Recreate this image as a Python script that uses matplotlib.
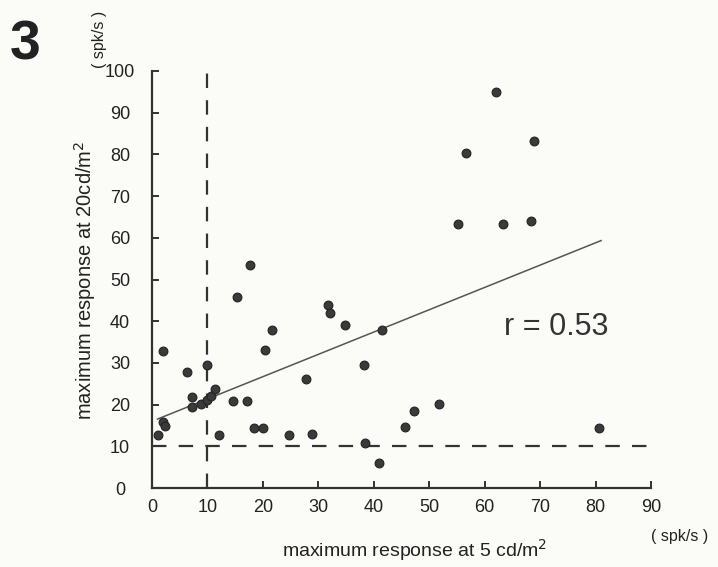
import matplotlib.pyplot as plt
import numpy as np

# maximum response (spk/s) at 5 cd/m2 vs at 20 cd/m2
resp_5cd = [1.0, 2.0, 2.0, 2.3, 6.4, 7.3, 7.3, 8.8, 10.0, 10.0, 10.6, 11.4, 12.1,
            14.6, 15.4, 17.1, 17.7, 18.4, 20.1, 20.4, 21.7, 24.7, 27.7, 28.9,
            31.7, 32.1, 34.8, 38.2, 38.5, 41.0, 41.4, 45.7, 47.2, 51.8, 55.2,
            56.7, 62.1, 63.3, 68.3, 68.9, 80.7]
resp_20cd = [12.7, 32.9, 15.9, 14.9, 27.9, 21.8, 19.4, 20.1, 29.5, 21.0, 22.1, 23.8, 12.7,
             20.9, 45.9, 20.9, 53.5, 14.3, 14.3, 33.1, 37.9, 12.7, 26.1, 13.0,
             43.8, 42.0, 39.0, 29.5, 10.9, 5.9, 37.9, 14.6, 18.5, 20.1, 63.2,
             80.3, 94.9, 63.2, 64.1, 83.3, 14.5]

# regression line as drawn
fit_x = [1, 81]
fit_slope = 0.535
fit_intercept = 16.0
r_value = 0.53
threshold = 10

xticks = list(range(0, 100, 10))
yticks = list(range(0, 110, 10))

plt.rcParams['font.family'] = ['Liberation Sans', 'DejaVu Sans']

fig = plt.figure(figsize=(7.18, 5.67), dpi=100)
fig.patch.set_facecolor('#fbfbf8')
ax = fig.add_axes([0.2117, 0.1393, 0.695, 0.7355])
ax.set_facecolor('#fbfbf8')

ax.set_xlim(0, 90)
ax.set_ylim(0, 100)
for s in ['top', 'right']:
    ax.spines[s].set_visible(False)
for s in ['left', 'bottom']:
    ax.spines[s].set_linewidth(1.6)
    ax.spines[s].set_color('#333333')

ax.set_xticks(xticks)
ax.set_yticks(yticks)
ax.tick_params(direction='in', length=5, width=1.4, color='#333333',
               labelsize=13, labelcolor='#222222')
ax.tick_params(axis='y', pad=23)
ax.tick_params(axis='x', pad=8)
for lab in ax.get_yticklabels():
    lab.set_horizontalalignment('center')

# threshold lines
ax.plot([0, 90], [threshold, threshold], color='#333333', lw=1.6,
        dashes=(6.5, 5.5), clip_on=False)
ax.plot([threshold, threshold], [0, 100], color='#333333', lw=1.6,
        dashes=(6.5, 5.5), clip_on=False)

fx = np.array(fit_x)
ax.plot(fx, fit_slope * fx + fit_intercept, color='#555555', lw=1.1)

ax.scatter(resp_5cd, resp_20cd, s=40, color='#3a3a3a', edgecolors='#222222',
           linewidths=0.8, zorder=3, clip_on=False)

ax.text(63.5, 38.5, 'r = %.2f' % r_value, fontsize=22, color='#333333',
        ha='left', va='center')

fig.text(0.578, 0.03, 'maximum response at 5 cd/m$^2$', fontsize=14,
         ha='center', va='center', color='#222222')
fig.text(0.118, 0.505, 'maximum response at 20cd/m$^2$', fontsize=14.5,
         rotation=90, ha='center', va='center', color='#222222')
fig.text(0.947, 0.054, '( spk/s )', fontsize=11.5, ha='center', va='center',
         color='#222222')
fig.text(0.139, 0.93, '( spk/s )', fontsize=11.5, rotation=90,
         ha='center', va='center', color='#222222')
fig.text(0.035, 0.92, '3', fontsize=40, fontweight='bold', ha='center',
         va='center', color='#222222')

fig.savefig('out.png', dpi=100, facecolor=fig.get_facecolor())
